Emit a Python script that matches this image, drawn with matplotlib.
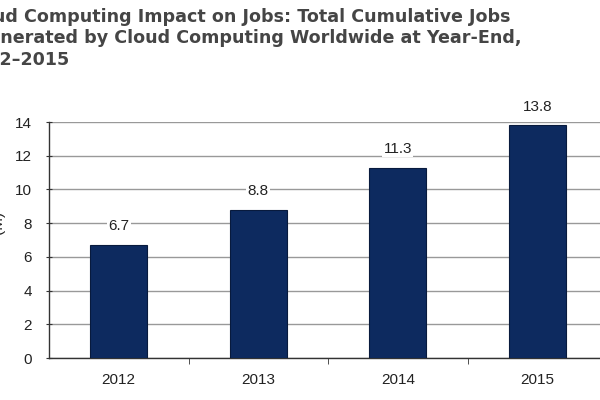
import matplotlib
matplotlib.use("Agg")
import matplotlib.pyplot as plt
import numpy as np

years = ["2012", "2013", "2014", "2015"]
jobs_m = [6.7, 8.8, 11.3, 13.8]
yticks = [0, 2, 4, 6, 8, 10, 12, 14]
title_lines = ["Cloud Computing Impact on Jobs: Total Cumulative Jobs",
               "Generated by Cloud Computing Worldwide at Year-End,",
               "2012\u20132015"]
hidden_prefix = ["Clo", "Ge", "201"]

fig = plt.figure(figsize=(6, 4), dpi=100)
ax = fig.add_axes([49/600, 42/400, 558/600, 236/400])

x = np.arange(len(years))
ax.bar(x, jobs_m, width=0.41, color="#0d2a5f", edgecolor="#081a3d", linewidth=0.8, zorder=3)
for xi, v in zip(x, jobs_m):
    ax.text(xi, v + 0.7, f"{v}", ha="center", va="bottom", fontsize=11,
            family="Liberation Sans", color="#222222", zorder=4,
            bbox=dict(facecolor="white", edgecolor="none", pad=1))

ax.set_xlim(-0.5, 3.5)
ax.set_ylim(0, 14)
ax.set_yticks(yticks)
ax.set_xticks(x)
ax.set_xticklabels(years, family="Liberation Sans", fontsize=11, color="#222222")
ax.set_xticks(np.arange(0.5, 3.5, 1), minor=True)
ax.tick_params(axis="x", which="major", length=0, pad=11)
ax.tick_params(axis="x", which="minor", length=4, direction="out", color="#333333")
ax.tick_params(axis="y", length=5, direction="inout", color="#333333", pad=10,
               labelsize=11, labelcolor="#222222")
for lab in ax.get_yticklabels():
    lab.set_family("Liberation Sans")
ax.yaxis.grid(True, color="#999999", linewidth=1.0, zorder=0)
ax.set_axisbelow(True)
for s in ["top", "right"]:
    ax.spines[s].set_visible(False)
for s in ["left", "bottom"]:
    ax.spines[s].set_color("#333333")
    ax.spines[s].set_linewidth(1.0)

ax.set_ylabel("(M)", family="Liberation Sans", fontsize=11, color="#222222")
ax.yaxis.label.set_position((0, 1 - (222 - 122) / 236))
ax.yaxis.labelpad = 7

fig.canvas.draw()
renderer = fig.canvas.get_renderer()
ys = [17, 38, 60]
visible_start = [-7, 0, 0]
tprops = dict(fontsize=12.6, family="DejaVu Sans", weight="bold", color="#454545")
for line, pre, yy, vs in zip(title_lines, hidden_prefix, ys, visible_start):
    t_full = fig.text(0, 0.5, line, **tprops)
    t_rest = fig.text(0, 0.5, line[len(pre):], **tprops)
    w = t_full.get_window_extent(renderer).width - t_rest.get_window_extent(renderer).width
    t_full.remove()
    t_rest.remove()
    fig.text((vs - w) / 600, 1 - yy / 400, line, ha="left", va="center", **tprops)

fig.savefig("out.png", dpi=100)
